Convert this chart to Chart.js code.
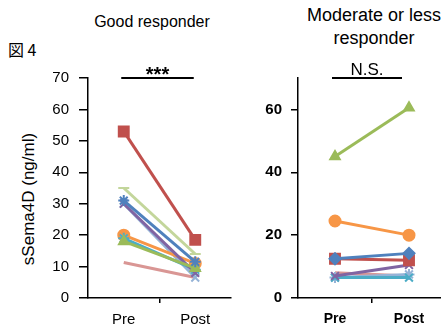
<!DOCTYPE html>
<html><head><meta charset="utf-8">
<script src="https://cdn.jsdelivr.net/npm/chart.js@4/dist/chart.umd.min.js"></script>
<style>
html,body{margin:0;padding:0;background:#fff;width:441px;height:325px;overflow:hidden;position:relative;font-family:'Liberation Sans',Arial,sans-serif;color:#000}
.t{position:absolute;text-align:center;white-space:nowrap}
#cvL{position:absolute;left:0;top:0}
#cvR{position:absolute;left:240px;top:0}
#yt{position:absolute;left:-51px;top:189px;width:160px;height:20px;line-height:20px;font-size:17px;transform:rotate(-90deg)}
</style></head>
<body>
<div class="t" style="left:8px;top:37px;font-size:16px;font-family:'Noto Sans CJK JP','Liberation Sans',sans-serif">図 4</div>
<div class="t" style="left:92px;top:13px;width:120px;font-size:16px">Good responder</div>
<div class="t" style="left:294px;top:4px;width:160px;font-size:18px;line-height:23px">Moderate or less<br>responder</div>
<div id="yt" class="t">sSema4D (ng/ml)</div>
<canvas id="cvL" width="240" height="325"></canvas>
<canvas id="cvR" width="216" height="325"></canvas>
<script>
/* sSema4D pre/post */
const groups = ['Pre','Post'];
const colors = ['#4F81BD','#C0504D','#9BBB59','#8064A2','#4BACC6','#F79646','#95B3D7','#D99694','#C3D69B'];

// good responders
const goodPre   = [31, 53, 18, 30, 19, 20, 30, 11.3, 35];
const goodPost  = [11.5, 18.5, 9.5, 8, 9, 11, 6.5, 6.5, 14];
const goodMarks = ['star','rect','triangle','crossRot','star','circle','crossRot',false,'line'];

// moderate or less
const modPre   = [12.5, 12.5, 45, 7, 6.5, 24.5, 6.5, 8];
const modPost  = [14.2, 12, 60.5, 10.5, 6.5, 20, 7.5, 7];
const modMarks = ['rectRot','rect','triangle','crossRot','crossRot','circle','star',false];

const yStepL = 10, yStepR = 20, yMax = 70;

const FONT = "'Liberation Sans', Arial, sans-serif";
Chart.defaults.font.family = FONT;
Chart.defaults.color = '#000';
Chart.defaults.animation = false;

function sets(pre, post, marks){
  return pre.map((v,i)=>({
    data:[v, post[i]],
    borderColor:colors[i], backgroundColor:colors[i],
    borderWidth:3, pointStyle:marks[i]||'circle',
    pointRadius: marks[i]===false ? 0 : (marks[i]==='rect' ? 7 : 5.5),
    pointBorderWidth: 2
  }));
}

// significance bar above Pre/Post
const sigBar = {
  id:'sigBar',
  afterDraw(c, args, o){
    const x = c.scales.x, ctx = c.ctx;
    const x0 = x.getPixelForValue(0) + o.dx0, x1 = x.getPixelForValue(1) + o.dx1;
    const y = c.chartArea.top + o.dy;
    ctx.save();
    ctx.strokeStyle='#000'; ctx.lineWidth=2;
    ctx.beginPath(); ctx.moveTo(x0,y); ctx.lineTo(x1,y); ctx.stroke();
    ctx.fillStyle='#000'; ctx.textAlign='center'; ctx.textBaseline='alphabetic';
    ctx.font = o.font;
    ctx.fillText(o.text,(x0+x1)/2, y + o.base);
    ctx.restore();
  }
};

function opts(step, yw, padR, tk, xk, sig){
  return {
    responsive:false,
    layout:{padding:{left:0, top:78, right:padR, bottom:0}},
    plugins:{legend:{display:false}, tooltip:{enabled:false}, sigBar:sig},
    scales:{
      x:{type:'category', offset:true,
         grid:{offset:true, drawOnChartArea:false, tickLength:5, lineWidth:1.5,
               color:c=>c.index===1?'#000':'rgba(0,0,0,0)'},
         border:{color:'#000', width:1.5},
         ticks:{font:xk, padding:8, color:'#000'},
         afterFit:s=>{s.height=27;}},
      y:{min:0, max:yMax,
         ticks:{stepSize:step, includeBounds:false, font:tk.font, padding:tk.pad, color:'#000'},
         grid:{drawOnChartArea:false, tickLength:tk.len, color:'#000', lineWidth:1.5},
         border:{color:'#000', width:1.5},
         afterFit:s=>{s.width=yw;}}
    }
  };
}

new Chart(document.getElementById('cvL'), {
  type:'line', plugins:[sigBar],
  data:{labels:groups, datasets:sets(goodPre, goodPost, goodMarks)},
  options:opts(yStepL, 88, 6,
    {font:{size:15}, pad:10, len:9}, {size:15},
    {text:'***', dy:0, base:3, font:"bold 20px "+FONT, dx0:-2.5, dx1:-1.5})
});

new Chart(document.getElementById('cvR'), {
  type:'line', plugins:[sigBar],
  data:{labels:groups, datasets:sets(modPre, modPost, modMarks)},
  options:opts(yStepR, 58, 10,
    {font:{size:15, weight:'bold'}, pad:9, len:7}, {size:14, weight:'bold'},
    {text:'N.S.', dy:0, base:-3, font:"17px "+FONT, dx0:-3, dx1:-7})
});
</script>
</body></html>
